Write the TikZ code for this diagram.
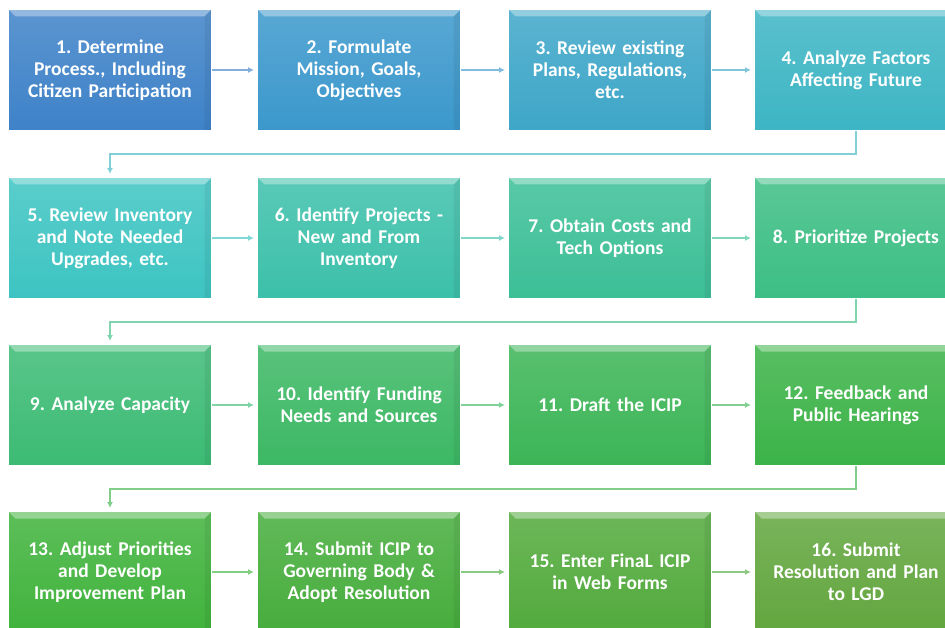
\documentclass[tikz,border=0pt]{standalone}
\usepackage{fontspec}
\setmainfont{Carlito}
\usetikzlibrary{arrows.meta}

\definecolor{sa}{HTML}{3E82C8}
\definecolor{sb}{HTML}{3B98CC}
\definecolor{sc}{HTML}{3EA6C8}
\definecolor{sd}{HTML}{3DB5C4}
\definecolor{se}{HTML}{3DC4C2}
\definecolor{sf}{HTML}{3CC0AA}
\definecolor{sg}{HTML}{3CBF96}
\definecolor{sh}{HTML}{3CBE84}
\definecolor{si}{HTML}{3CBB74}
\definecolor{sj}{HTML}{3CB864}
\definecolor{sk}{HTML}{3CB556}
\definecolor{sl}{HTML}{3BB347}
\definecolor{sm}{HTML}{40B33C}
\definecolor{sn}{HTML}{46AD3C}
\definecolor{so}{HTML}{52AA3C}
\definecolor{sp}{HTML}{62A63E}

\tikzset{
  stepbox/.style={rectangle, anchor=north west, minimum width=203pt, minimum height=121pt,
    top color=#1!85!white, bottom color=#1, draw=white, line width=1pt,
    text=white, align=center, text width=194pt,
    font=\fontsize{19.5}{22}\selectfont\bfseries,
    path picture={
      \fill[white, opacity=0.35] (path picture bounding box.north west) -- (path picture bounding box.north east)
        -- ([xshift=-7pt,yshift=-7pt]path picture bounding box.north east) -- ([xshift=7pt,yshift=-7pt]path picture bounding box.north west) -- cycle;
      \fill[black, opacity=0.06] ([xshift=-7pt,yshift=-7pt]path picture bounding box.north east) -- (path picture bounding box.north east)
        -- (path picture bounding box.south east) -- ([xshift=-7pt]path picture bounding box.south east) -- cycle;
    }},
  flow/.style={draw=#1!65!white, line width=1.6pt, -{Latex[length=6pt,width=6pt]}, shorten >=3pt}
}

\begin{document}
\frenchspacing
\begin{tikzpicture}[x=1pt, y=-1pt]
  %%%%% START %%%%%
  \useasboundingbox (0,0) rectangle (945,628);
  \clip (0,0) rectangle (945,628);

  % row 1
  \node[stepbox=sa] (b1) at (8, 9) {1. Determine\\Process., Including\\Citizen Participation};
  \node[stepbox=sb] (b2) at (257, 9) {2. Formulate\\Mission, Goals,\\Objectives};
  \node[stepbox=sc] (b3) at (508, 9) {3. Review existing\\Plans, Regulations,\\etc.};
  \node[stepbox=sd] (b4) at (754, 9) {4. Analyze Factors\\Affecting Future};

  % row 2
  \node[stepbox=se] (b5) at (8, 177) {5. Review Inventory\\and Note Needed\\Upgrades, etc.};
  \node[stepbox=sf] (b6) at (257, 177) {6. Identify Projects -\\New and From\\Inventory};
  \node[stepbox=sg] (b7) at (508, 177) {7. Obtain Costs and\\Tech Options};
  \node[stepbox=sh] (b8) at (754, 177) {8. Prioritize Projects};

  % row 3
  \node[stepbox=si] (b9) at (8, 344) {9. Analyze Capacity};
  \node[stepbox=sj] (b10) at (257, 344) {10. Identify Funding\\Needs and Sources};
  \node[stepbox=sk] (b11) at (508, 344) {11. Draft the ICIP};
  \node[stepbox=sl] (b12) at (754, 344) {12. Feedback and\\Public Hearings};

  % row 4
  \node[stepbox=sm] (b13) at (8, 511) {13. Adjust Priorities\\and Develop\\Improvement Plan};
  \node[stepbox=sn] (b14) at (257, 511) {14. Submit ICIP to\\Governing Body \&\\Adopt Resolution};
  \node[stepbox=so] (b15) at (508, 511) {15. Enter FinaL ICIP\\in Web Forms};
  \node[stepbox=sp] (b16) at (754, 511) {16. Submit\\Resolution and Plan\\to LGD};

  % arrows
  \draw[flow=sa] (b1) -- (b2);
  \draw[flow=sb] (b2) -- (b3);
  \draw[flow=sc] (b3) -- (b4);
  \draw[flow=sd] (b4.south) -- ++(0,23) -| (b5.north);

  \draw[flow=se] (b5) -- (b6);
  \draw[flow=sf] (b6) -- (b7);
  \draw[flow=sg] (b7) -- (b8);
  \draw[flow=sh] (b8.south) -- ++(0,23) -| (b9.north);

  \draw[flow=si] (b9) -- (b10);
  \draw[flow=sj] (b10) -- (b11);
  \draw[flow=sk] (b11) -- (b12);
  \draw[flow=sl] (b12.south) -- ++(0,23) -| (b13.north);

  \draw[flow=sm] (b13) -- (b14);
  \draw[flow=sn] (b14) -- (b15);
  \draw[flow=so] (b15) -- (b16);
  %%%%% END %%%%%
\end{tikzpicture}
\end{document}
